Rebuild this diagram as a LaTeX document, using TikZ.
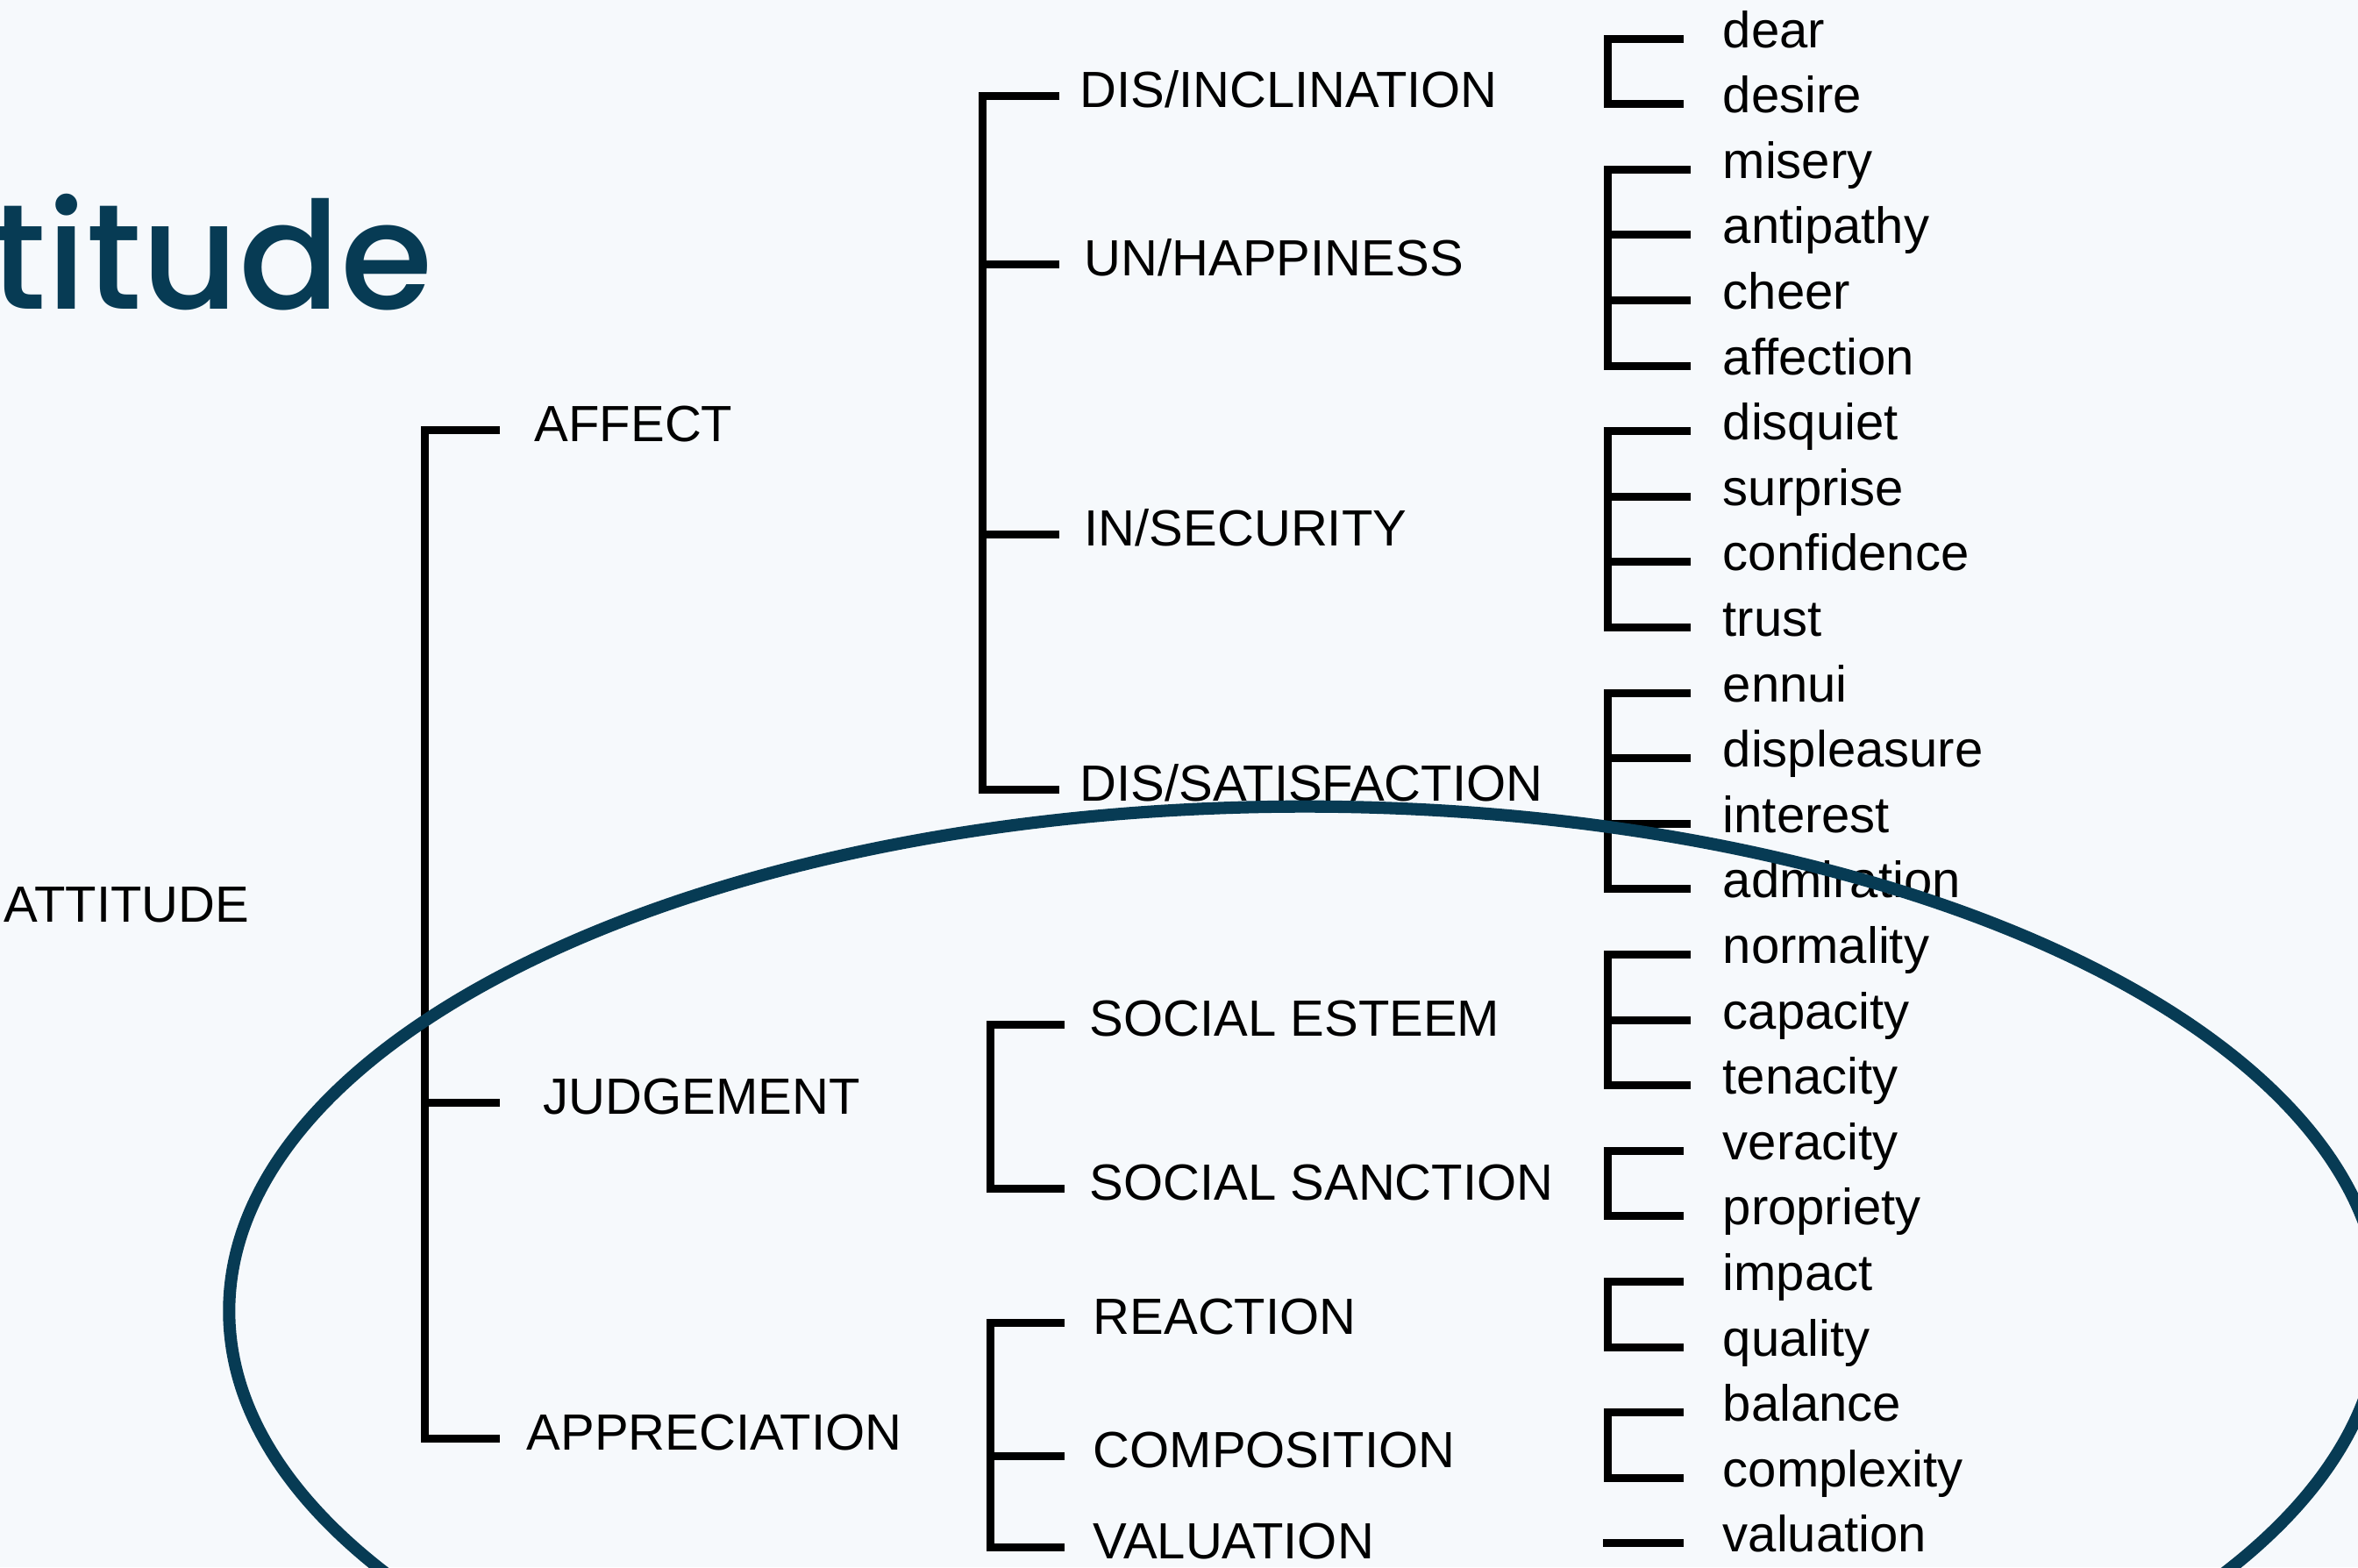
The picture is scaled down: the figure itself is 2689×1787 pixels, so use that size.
\documentclass[tikz,border=0pt]{standalone}
\usepackage{fontspec}
\setmainfont{Liberation Sans}
\newfontfamily\titlefont{Poppins Medium}
\definecolor{petrol}{HTML}{073B54}
\definecolor{paper}{HTML}{F6F9FC}

\begin{document}
\begin{tikzpicture}[x = 0.01cm, y = -0.01cm,
  every node/.style = {inner sep = 0pt, font = \fontsize{16.5}{20}\selectfont},
  head/.style = {anchor = base west, text height = 0.72em, text depth = 0pt},
  leaf/.style = {anchor = base west, text height = 0.56em, text depth = 0pt},
  brk/.style = {line width = 2.56pt, black}]

  \fill [paper] (0, 0) rectangle (2689, 1787);
  \useasboundingbox (0, 0) rectangle (2689, 1787);

  \node [anchor = base east, text = petrol, font = \titlefont\fontsize{48.5}{50}\selectfont] (title) at (494, 352) {titude};

  \node [anchor = base west] (attitude) at (4, 1051) {ATTITUDE};

  \node [head] (affect)       at (609,  503) {AFFECT};
  \node [head] (judgement)    at (619, 1270) {JUDGEMENT};
  \node [head] (appreciation) at (600, 1653) {APPRECIATION};

  \node [head] (inclination)  at (1231,  122) {DIS/INCLINATION};
  \node [head] (happiness)    at (1236,  314) {UN/HAPPINESS};
  \node [head] (security)     at (1236,  622) {IN/SECURITY};
  \node [head] (satisfaction) at (1231,  913) {DIS/SATISFACTION};
  \node [head] (esteem)       at (1242, 1181) {SOCIAL ESTEEM};
  \node [head] (sanction)     at (1242, 1368) {SOCIAL SANCTION};
  \node [head] (reaction)     at (1246, 1521) {REACTION};
  \node [head] (composition)  at (1246, 1673) {COMPOSITION};
  \node [head] (valuecat)     at (1246, 1777) {VALUATION};

  \foreach \w [count = \k from 0] in {dear, desire, misery, antipathy, cheer, affection,
      disquiet, surprise, confidence, trust, ennui, displeasure, interest, admiration,
      normality, capacity, tenacity, veracity, propriety, impact, quality, balance,
      complexity, valuation}
    \node [leaf] (\w) at (1964, 54 + 74.6 * \k) {\w};

  % spines and tick ends
  \coordinate (s1) at (484, 0);   \coordinate (e1) at (570, 0);
  \coordinate (s2a) at (1120, 0); \coordinate (e2a) at (1208, 0);
  \coordinate (s2b) at (1129, 0); \coordinate (e2b) at (1214, 0);
  \coordinate (s3) at (1833, 0);  \coordinate (s3v) at (1828, 0);
  \coordinate (e3a) at (1920, 0); \coordinate (e3b) at (1928, 0);

  \draw [brk] (affect.west -| e1) -| (s1 |- appreciation.west) -- (appreciation.west -| e1);
  \draw [brk] (s1 |- judgement.west) -- (judgement.west -| e1);

  \draw [brk] (inclination.west -| e2a) -| (s2a |- satisfaction.west) -- (satisfaction.west -| e2a);
  \foreach \n in {happiness, security}
    \draw [brk] (s2a |- \n.west) -- (\n.west -| e2a);

  \draw [brk] (esteem.west -| e2b) -| (s2b |- sanction.west) -- (sanction.west -| e2b);
  \draw [brk] (reaction.west -| e2b) -| (s2b |- valuecat.west) -- (valuecat.west -| e2b);
  \draw [brk] (s2b |- composition.west) -- (composition.west -| e2b);

  \draw [brk] (dear.west -| e3a) -| (s3 |- desire.west) -- (desire.west -| e3a);
  \draw [brk] (misery.west -| e3b) -| (s3 |- affection.west) -- (affection.west -| e3b);
  \draw [brk] (disquiet.west -| e3b) -| (s3 |- trust.west) -- (trust.west -| e3b);
  \draw [brk] (ennui.west -| e3b) -| (s3 |- admiration.west) -- (admiration.west -| e3b);
  \draw [brk] (normality.west -| e3b) -| (s3 |- tenacity.west) -- (tenacity.west -| e3b);
  \foreach \n in {antipathy, cheer, surprise, confidence, displeasure, interest, capacity}
    \draw [brk] (s3 |- \n.west) -- (\n.west -| e3b);
  \draw [brk] (veracity.west -| e3a) -| (s3 |- propriety.west) -- (propriety.west -| e3a);
  \draw [brk] (impact.west -| e3a) -| (s3 |- quality.west) -- (quality.west -| e3a);
  \draw [brk] (balance.west -| e3a) -| (s3 |- complexity.west) -- (complexity.west -| e3a);
  \draw [brk] (s3v |- valuation.west) -- (valuation.west -| e3a);

  \draw [petrol, line width = 4pt] (1488, 1495) ellipse [x radius = 12.26cm, y radius = 5.75cm];

\end{tikzpicture}
\end{document}
